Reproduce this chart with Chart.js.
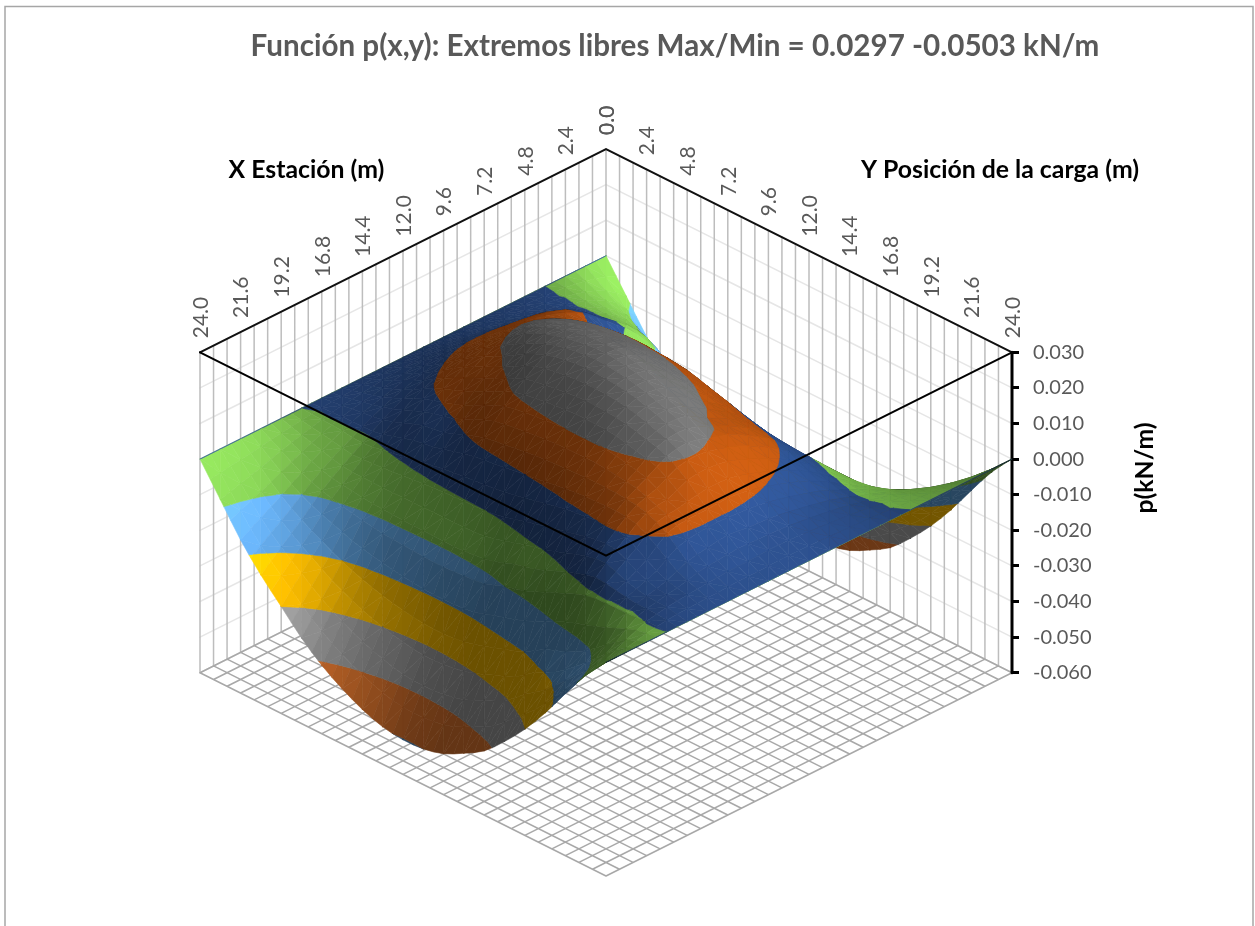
<!DOCTYPE html>
<html lang="es">
<head>
<meta charset="utf-8">
<title>Función p(x,y)</title>
<style>
  html, body { margin: 0; padding: 0; background: #fff; }
  canvas { display: block; }
</style>
<script src="https://cdn.jsdelivr.net/npm/chart.js@4"></script>
</head>
<body>
<canvas id="chart" width="1255" height="926"></canvas>
<script>
// Surface stations along both horizontal axes (m)
const xStations = [0, 1.2, 2.4, 3.6, 4.8, 6, 7.2, 8.4, 9.6, 10.8, 12, 13.2, 14.4, 15.6, 16.8, 18, 19.2, 20.4, 21.6, 22.8, 24];
const yPositions = [0, 1.2, 2.4, 3.6, 4.8, 6, 7.2, 8.4, 9.6, 10.8, 12, 13.2, 14.4, 15.6, 16.8, 18, 19.2, 20.4, 21.6, 22.8, 24];
// Gridline positions on the walls and the floor (m)
const gridStations = [0, 0.8, 1.6, 2.4, 3.2, 4, 4.8, 5.6, 6.4, 7.2, 8, 8.8, 9.6, 10.4, 11.2, 12, 12.8, 13.6, 14.4, 15.2, 16, 16.8, 17.6, 18.4, 19.2, 20, 20.8, 21.6, 22.4, 23.2, 24];
const xTickLabels = ['0.0', '2.4', '4.8', '7.2', '9.6', '12.0', '14.4', '16.8', '19.2', '21.6', '24.0'];
const yTickLabels = ['0.0', '2.4', '4.8', '7.2', '9.6', '12.0', '14.4', '16.8', '19.2', '21.6', '24.0'];
const zTickValues = [0.03, 0.02, 0.01, 0, -0.01, -0.02, -0.03, -0.04, -0.05, -0.06];

// Band limits of the surface and the colour of each band, lowest first
const bandLimits = [-0.06, -0.05, -0.04, -0.03, -0.02, -0.01, 0, 0.01, 0.02, 0.03];
const bandColors = ['#5B9BD5', '#ED7D31', '#A5A5A5', '#FFC000', '#5B9BD5', '#70AD47', '#264478', '#9E480E', '#636363'];

// p(x,y) in kN/m: one row per y position, one column per x station
const surfaceRows = [
[0,0,0,0,0,0,0,0,0,0,0,0,0,0,0,0,0,0,0,0,0],
[-.0085,-.0041,-.0016,-.0001,.0009,.0016,.0022,.0027,.0032,.0035,.0033,.0028,.0022,.0014,.0008,-.0003,-.0018,-.0034,-.0052,-.0068,-.0085],
[-.017,-.008,-.0033,-.0004,.0018,.0034,.0048,.0059,.007,.0075,.0072,.0061,.0048,.0032,.0016,-.0006,-.0033,-.0066,-.0103,-.0136,-.017],
[-.024,-.0118,-.0048,-.0004,.0035,.0075,.0098,.0108,.0115,.0118,.0113,.0098,.0078,.0055,.0025,-.0012,-.0048,-.0089,-.0142,-.019,-.024],
[-.03,-.0155,-.0068,-.0005,.0045,.0095,.0125,.0145,.0158,.0165,.0158,.0139,.0113,.0083,.0044,-.0003,-.0051,-.0103,-.0173,-.0235,-.03],
[-.036,-.0265,-.0172,-.0077,-.0009,.0061,.0118,.016,.0193,.0208,.0198,.0175,.0142,.0102,.0066,.0008,-.0052,-.0115,-.0202,-.0279,-.036],
[-.0408,-.0301,-.0196,-.0087,-.0012,.0068,.0133,.0182,.0221,.0242,.0239,.0203,.017,.0122,.0075,.0019,-.0051,-.0123,-.0224,-.0313,-.0408],
[-.0445,-.033,-.0217,-.0098,-.0018,.0069,.0142,.0195,.0239,.0264,.0265,.0238,.0196,.0152,.0097,.0029,-.005,-.0127,-.0241,-.0341,-.0445],
[-.0475,-.0355,-.0237,-.011,-.0026,.0065,.0145,.0201,.0248,.0279,.0283,.0264,.0225,.0177,.0117,.0037,-.0049,-.0131,-.0253,-.0361,-.0475],
[-.0495,-.0371,-.0254,-.0121,-.0036,.0058,.014,.02,.0249,.0285,.0293,.0278,.0237,.0188,.0126,.0043,-.0049,-.0132,-.0261,-.0376,-.0495],
[-.0503,-.038,-.0263,-.0128,-.0045,.005,.0135,.0195,.0245,.0285,.0297,.0285,.0245,.0195,.0135,.005,-.0045,-.0128,-.0263,-.038,-.0503],
[-.05,-.038,-.0268,-.0138,-.0054,.0037,.0119,.0182,.0231,.0272,.029,.0283,.025,.02,.0141,.0062,-.003,-.0122,-.0256,-.0375,-.05],
[-.0485,-.0373,-.0266,-.0144,-.0061,.0024,.0103,.0165,.0214,.0254,.0277,.0276,.0248,.0201,.0145,.0075,-.0012,-.01,-.024,-.0362,-.0485],
[-.0455,-.0352,-.0253,-.0143,-.0064,.0013,.0086,.0146,.0188,.0231,.0257,.0262,.0241,.0199,.0148,.0088,.0002,-.0085,-.022,-.0335,-.0455],
[-.042,-.0326,-.0238,-.0137,-.0064,.0005,.0073,.0129,.0172,.02,.0235,.0242,.0226,.0188,.0148,.0095,.0022,-.006,-.0199,-.0308,-.042],
[-.0365,-.028,-.0203,-.0117,-.0053,.0006,.0064,.0115,.0152,.0184,.0202,.0217,.0208,.0175,.0145,.0102,.0042,-.0035,-.0163,-.0261,-.0365],
[-.0302,-.024,-.0181,-.0111,-.0055,-.0008,.0042,.0084,.0116,.0143,.0165,.0174,.0169,.0143,.0135,.0095,.005,-.0012,-.0142,-.022,-.0302],
[-.0228,-.018,-.0141,-.0089,-.0049,-.0015,.0021,.0053,.0076,.0096,.0111,.0119,.0116,.0116,.0105,.006,.0028,-.0005,-.011,-.0165,-.0228],
[-.0145,-.0116,-.0088,-.0057,-.0034,-.0013,.0008,.0027,.004,.0052,.0061,.0065,.0072,.0065,.0055,.003,.0015,-.0004,-.0065,-.0109,-.0145],
[-.0065,-.0052,-.0039,-.0024,-.0014,-.0004,.0006,.0014,.002,.0025,.0029,.003,.0027,.0027,.0023,.0018,.0012,.0001,-.0022,-.0049,-.0065],
[0,0,0,0,0,0,0,0,0,0,0,0,0,0,0,0,0,0,0,0,0]
];

const Z_TOP = 0.03, Z_BOTTOM = -0.06;
const SPAN = 24;                 // plan size of the box (m)
const DEPTH_RISE = 0.002379;     // drop on the value axis per metre of plan depth
const Z_METRIC = 172;            // vertical exaggeration used for the surface normals
const FONT = 'Lato, "Open Sans", sans-serif';

// Oblique projection of a model point onto the two chart axes
function project(x, y, z) {
  return { x: y - x, y: z + (SPAN - x - y) * DEPTH_RISE };
}

function shade(hex, b) {
  const c = [1, 3, 5].map(i => Math.min(255, Math.round(parseInt(hex.substr(i, 2), 16) * b)));
  return `rgb(${c[0]},${c[1]},${c[2]})`;
}

// Catmull-Rom step used to round the drawn mesh between the stored stations
function spline(a, b, c, d) {
  return (-a + 9 * b + 9 * c - d) / 16;
}

// Drawn mesh: the stored stations plus a smoothing vertex between each pair
function buildMesh() {
  const n = xStations.length;
  const at = (row, i) => row[Math.max(0, Math.min(n - 1, i))];
  const halfRows = surfaceRows.map(row => {
    const out = [];
    for (let i = 0; i < n; i++) {
      out.push(row[i]);
      if (i < n - 1) {
        const before = i > 0 ? row[i - 1] : 2 * row[0] - row[1];
        const after = i < n - 2 ? row[i + 2] : 2 * row[n - 1] - row[n - 2];
        out.push(spline(before, at(row, i), at(row, i + 1), after));
      }
    }
    return out;
  });
  const m = yPositions.length;
  const mesh = [];
  for (let j = 0; j < m; j++) {
    mesh.push(halfRows[j]);
    if (j < m - 1) {
      mesh.push(halfRows[j].map((z, i) => {
        const before = j > 0 ? halfRows[j - 1][i] : 2 * halfRows[0][i] - halfRows[1][i];
        const after = j < m - 2 ? halfRows[j + 2][i] : 2 * halfRows[m - 1][i] - halfRows[m - 2][i];
        return spline(before, z, halfRows[j + 1][i], after);
      }));
    }
  }
  return mesh;
}
const mesh = buildMesh();
const MESH_STEP = SPAN / (mesh.length - 1);

// Brightness for a unit normal: lit from the +y side, underside in shadow
function brightness(n) {
  const toViewer = n[0] * 0.61 + n[1] * 0.61 + n[2] * 0.5;
  if (toViewer < 0) return 0.45;
  const lit = 0.48 + 0.47 * n[2] - 0.28 * n[0] + (n[1] > 0 ? 0.75 : 0.35) * n[1];
  return Math.max(0.42, Math.min(1.45, lit));
}

function triangleNormal([a, b, c]) {
  const u = [b.x - a.x, b.y - a.y, (b.z - a.z) * Z_METRIC];
  const v = [c.x - a.x, c.y - a.y, (c.z - a.z) * Z_METRIC];
  let n = [u[1] * v[2] - u[2] * v[1], u[2] * v[0] - u[0] * v[2], u[0] * v[1] - u[1] * v[0]];
  const len = Math.hypot(n[0], n[1], n[2]) || 1;
  n = n.map(k => k / len);
  return n[2] < 0 ? n.map(k => -k) : n;
}

// Normal of a cell taken over its neighbours, which softens the faceting
function cellNormal(i, j) {
  const last = mesh.length - 1;
  const i0 = Math.max(i - 1, 0), i1 = Math.min(i + 2, last);
  const j0 = Math.max(j - 1, 0), j1 = Math.min(j + 2, last);
  const dzdx = ((mesh[j][i1] + mesh[j + 1][i1]) - (mesh[j][i0] + mesh[j + 1][i0])) / 2 / ((i1 - i0) * MESH_STEP);
  const dzdy = ((mesh[j1][i] + mesh[j1][i + 1]) - (mesh[j0][i] + mesh[j0][i + 1])) / 2 / ((j1 - j0) * MESH_STEP);
  const n = [-dzdx * Z_METRIC, -dzdy * Z_METRIC, 1];
  const len = Math.hypot(n[0], n[1], n[2]);
  return n.map(k => k / len);
}

// Keep the part of a polygon between two z levels
function clipToBand(poly, lo, hi) {
  const cut = (pts, keep, level) => {
    const out = [];
    pts.forEach((p, i) => {
      const q = pts[(i + 1) % pts.length];
      const pIn = keep(p.z), qIn = keep(q.z);
      if (pIn) out.push(p);
      if (pIn !== qIn) {
        const t = (level - p.z) / (q.z - p.z);
        out.push({ x: p.x + (q.x - p.x) * t, y: p.y + (q.y - p.y) * t, z: level });
      }
    });
    return out;
  };
  const a = cut(poly, z => z >= lo, lo);
  return a.length ? cut(a, z => z <= hi, hi) : a;
}

function facetDatasets() {
  const cells = [];
  for (let j = 0; j < mesh.length - 1; j++) {
    for (let i = 0; i < mesh.length - 1; i++) cells.push([i, j]);
  }
  cells.sort((p, q) => (p[0] + p[1]) - (q[0] + q[1]));
  const sets = [];
  cells.forEach(([i, j]) => {
    const v = (a, b) => ({ x: a * MESH_STEP, y: b * MESH_STEP, z: mesh[b][a] });
    const c00 = v(i, j), c10 = v(i + 1, j), c01 = v(i, j + 1), c11 = v(i + 1, j + 1);
    const soft = brightness(cellNormal(i, j));
    // Two triangles per cell with alternating diagonals, farthest first
    const tris = (i + j) % 2
      ? [[c00, c10, c01], [c10, c11, c01]]
      : [[c00, c10, c11], [c00, c01, c11]];
    tris.forEach(tri => {
      const b = 0.75 * soft + 0.25 * brightness(triangleNormal(tri));
      bandColors.forEach((hex, k) => {
        const poly = clipToBand(tri, bandLimits[k], bandLimits[k + 1]);
        if (poly.length < 3) return;
        const pts = poly.map(p => project(p.x, p.y, p.z));
        pts.push(pts[0]);
        const col = shade(hex, b);
        sets.push({ data: pts, fill: 'shape', backgroundColor: col, borderColor: col, borderWidth: 0.6 });
      });
    });
  });
  return sets;
}

function polyline(points, color, width) {
  return { data: points, borderColor: color, borderWidth: width, fill: false, spanGaps: false };
}

const GAP = { x: NaN, y: NaN };

function wallVerticals() {
  const pts = [];
  gridStations.forEach(s => {
    pts.push(project(s, 0, Z_TOP), project(s, 0, Z_BOTTOM), GAP);
    pts.push(project(0, s, Z_TOP), project(0, s, Z_BOTTOM), GAP);
  });
  return pts;
}
function wallHorizontals() {
  const pts = [];
  zTickValues.forEach(z => {
    pts.push(project(SPAN, 0, z), project(0, 0, z), project(0, SPAN, z), GAP);
  });
  return pts;
}
function floorGrid() {
  const pts = [];
  gridStations.forEach(s => {
    pts.push(project(s, 0, Z_BOTTOM), project(s, SPAN, Z_BOTTOM), GAP);
    pts.push(project(0, s, Z_BOTTOM), project(SPAN, s, Z_BOTTOM), GAP);
  });
  return pts;
}

// Later datasets paint first, so the list runs from the top layer down
const datasets = [
  polyline([project(SPAN, 0, Z_TOP), project(SPAN, SPAN, Z_TOP), project(0, SPAN, Z_TOP)], '#000', 2),
  ...facetDatasets().reverse(),
  polyline([project(0, SPAN, Z_TOP), project(0, SPAN, Z_BOTTOM)], '#000', 3),
  polyline([project(SPAN, 0, Z_TOP), project(0, 0, Z_TOP), project(0, SPAN, Z_TOP)], '#111', 2),
  polyline(floorGrid(), '#a8a8a8', 1.5),
  polyline(wallVerticals(), '#bdbdbd', 1.5),
  polyline(wallHorizontals(), '#e6e6e6', 1.5)
];

const textLayer = {
  id: 'textLayer',
  beforeDraw(chart) {
    const { ctx } = chart;
    ctx.save();
    ctx.strokeStyle = '#a6a6a6';
    ctx.lineWidth = 1.5;
    ctx.beginPath();
    ctx.moveTo(5, 940); ctx.lineTo(5, 6.5); ctx.lineTo(1253, 6.5); ctx.lineTo(1253, 940);
    ctx.stroke();
    ctx.restore();
  },
  afterDraw(chart) {
    const { ctx, scales: { x: sx, y: sy } } = chart;
    const at = p => [sx.getPixelForValue(p.x), sy.getPixelForValue(p.y)];
    ctx.save();
    ctx.textBaseline = 'middle';
    ctx.textAlign = 'center';

    ctx.fillStyle = '#595959';
    ctx.font = `bold 29.6px ${FONT}`;
    ctx.fillText('Función p(x,y): Extremos libres Max/Min = 0.0297 -0.0503 kN/m', 675, 46);

    ctx.fillStyle = '#000';
    ctx.font = `bold 24.8px ${FONT}`;
    ctx.fillText('X Estación (m)', 306.5, 170);
    ctx.fillText('Y Posición de la carga (m)', 1000, 170);

    ctx.save();
    ctx.translate(1145, 468);
    ctx.rotate(-Math.PI / 2);
    ctx.fillText('p(kN/m)', 0, 0);
    ctx.restore();

    // Vertical tick labels above the two back edges of the box
    ctx.fillStyle = '#595959';
    ctx.font = `21px ${FONT}`;
    ctx.textAlign = 'left';
    const vertical = (label, p) => {
      const [px, py] = at(p);
      ctx.save();
      ctx.translate(px + 1, py - 14);
      ctx.rotate(-Math.PI / 2);
      ctx.fillText(label, 0, 0);
      ctx.restore();
    };
    xTickLabels.forEach(t => vertical(t, project(Number(t), 0, Z_TOP)));
    yTickLabels.forEach(t => vertical(t, project(0, Number(t), Z_TOP)));
    ctx.restore();
  }
};

new Chart(document.getElementById('chart'), {
  type: 'scatter',
  data: { datasets },
  plugins: [textLayer],
  options: {
    responsive: false,
    animation: false,
    events: [],
    showLine: true,
    clip: false,
    layout: { padding: { left: 200, right: 143, top: 149, bottom: 50 } },
    elements: {
      point: { radius: 0 },
      line: { tension: 0, borderCapStyle: 'round' }
    },
    datasets: { scatter: { showLine: true, pointRadius: 0, clip: false } },
    plugins: {
      legend: { display: false },
      tooltip: { enabled: false },
      title: { display: false },
      filler: { propagate: false }
    },
    scales: {
      x: { type: 'linear', min: -SPAN, max: SPAN, display: false },
      y: {
        type: 'linear',
        position: 'right',
        min: Z_BOTTOM - SPAN * DEPTH_RISE,
        max: Z_TOP + SPAN * DEPTH_RISE,
        afterFit(scale) { scale.width = 100; },
        afterBuildTicks(scale) { scale.ticks = zTickValues.map(value => ({ value })); },
        border: { display: false },
        grid: { drawOnChartArea: false, drawTicks: true, tickLength: 7, tickColor: '#000', tickWidth: 3 },
        ticks: {
          autoSkip: false,
          maxRotation: 0,
          padding: 14,
          color: '#595959',
          font: { family: FONT, size: 20 },
          callback: v => Number(v).toFixed(3)
        }
      }
    }
  }
});
</script>
</body>
</html>
